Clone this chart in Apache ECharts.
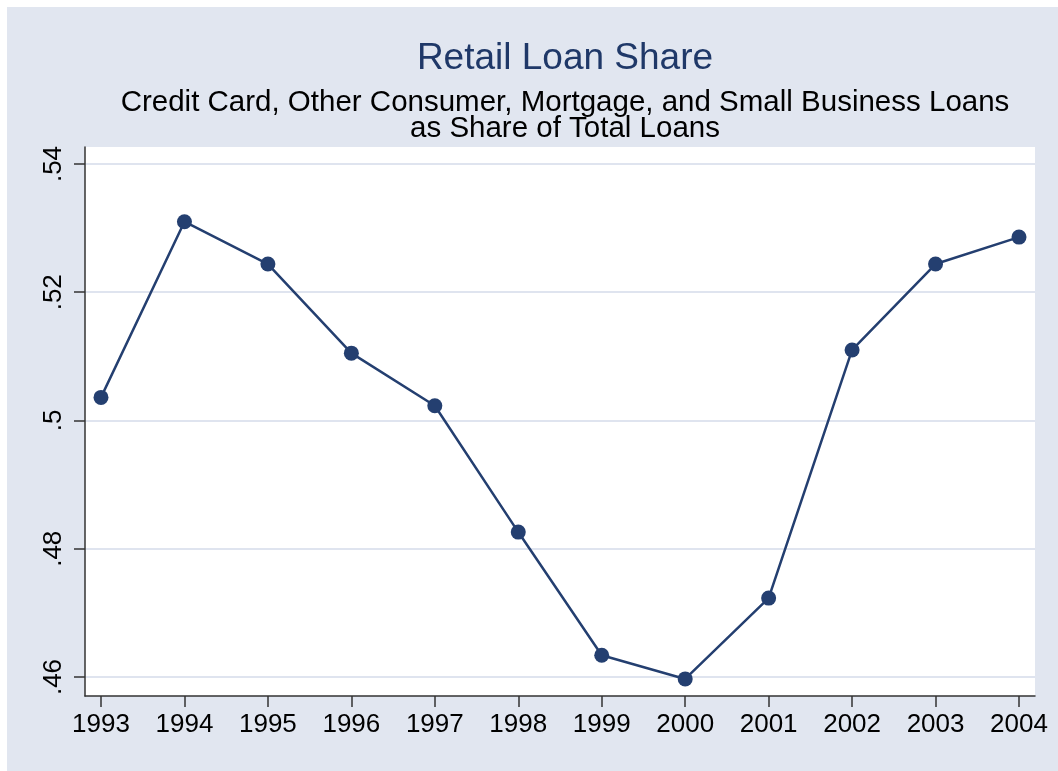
<!DOCTYPE html>
<html>
<head>
<meta charset="utf-8">
<title>Retail Loan Share</title>
<script src="https://cdn.jsdelivr.net/npm/echarts@6/dist/echarts.min.js"></script>
<style>
  html, body { margin: 0; padding: 0; background: #fff; }
  #chart { width: 1058px; height: 771px; }
</style>
</head>
<body>
<div id="chart"></div>
<script>
// data
var years = [1993, 1994, 1995, 1996, 1997, 1998, 1999, 2000, 2001, 2002, 2003, 2004];
var retailShare = [0.5036, 0.5310, 0.5244, 0.5105, 0.5023, 0.4826, 0.4634, 0.4597, 0.4723, 0.5110, 0.5244, 0.5286];
var yTicks = [0.46, 0.48, 0.5, 0.52, 0.54];
var yTickLabels = ['.46', '.48', '.5', '.52', '.54'];

var navy = '#243f70';
var bg = '#e1e6f0';
var font = 'Liberation Sans, Arial, sans-serif';

var chart = echarts.init(document.getElementById('chart'));

var points = [];
for (var i = 0; i < years.length; i++) {
    points.push([years[i], retailShare[i]]);
}

var option = {
    backgroundColor: '#fff',
    animation: false,
    graphic: [{
        type: 'rect',
        z: -10,
        silent: true,
        shape: { x: 7, y: 7, width: 1051, height: 764 },
        style: { fill: bg }
    }],
    title: [{
        text: 'Retail Loan Share',
        left: 560,
        top: 35,
        textAlign: 'center',
        textStyle: { fontFamily: font, fontSize: 37, fontWeight: 'normal', color: '#1f3868' }
    }, {
        text: 'Credit Card, Other Consumer, Mortgage, and Small Business Loans\nas Share of Total Loans',
        left: 560,
        top: 85,
        textAlign: 'center',
        textStyle: { fontFamily: font, fontSize: 29.5, fontWeight: 'normal', color: '#000', lineHeight: 26 }
    }],
    grid: {
        left: 85,
        top: 147,
        width: 950,
        height: 549,
        show: true,
        backgroundColor: '#fff',
        borderWidth: 0
    },
    xAxis: {
        type: 'value',
        min: 1992.8083,
        max: 2004.1917,
        axisLine: { show: true, lineStyle: { color: '#333', width: 1.5 } },
        axisTick: { show: true, length: 11, customValues: years, lineStyle: { color: '#333', width: 1.5 } },
        axisLabel: {
            customValues: years,
            margin: 16,
            fontFamily: font,
            fontSize: 26,
            color: '#000',
            formatter: function (v) { return String(v); }
        },
        splitLine: { show: false }
    },
    yAxis: {
        type: 'value',
        min: 0.457037,
        max: 0.54265,
        axisLine: { show: true, lineStyle: { color: '#333', width: 1.5 } },
        axisTick: { show: true, length: 11, customValues: yTicks, lineStyle: { color: '#333', width: 1.5 } },
        axisLabel: {
            customValues: yTicks,
            rotate: 90,
            margin: 18,
            fontFamily: font,
            fontSize: 26,
            color: '#000',
            formatter: function (v) {
                for (var k = 0; k < yTicks.length; k++) {
                    if (Math.abs(yTicks[k] - v) < 1e-6) return yTickLabels[k];
                }
                return '';
            }
        },
        splitLine: { show: true, lineStyle: { color: '#dfe4ef', width: 2 } }
    },
    series: [{
        type: 'line',
        data: points,
        symbol: 'circle',
        symbolSize: 15,
        showAllSymbol: true,
        lineStyle: { color: navy, width: 2.5 },
        itemStyle: { color: navy }
    }]
};

chart.setOption(option);
</script>
</body>
</html>
